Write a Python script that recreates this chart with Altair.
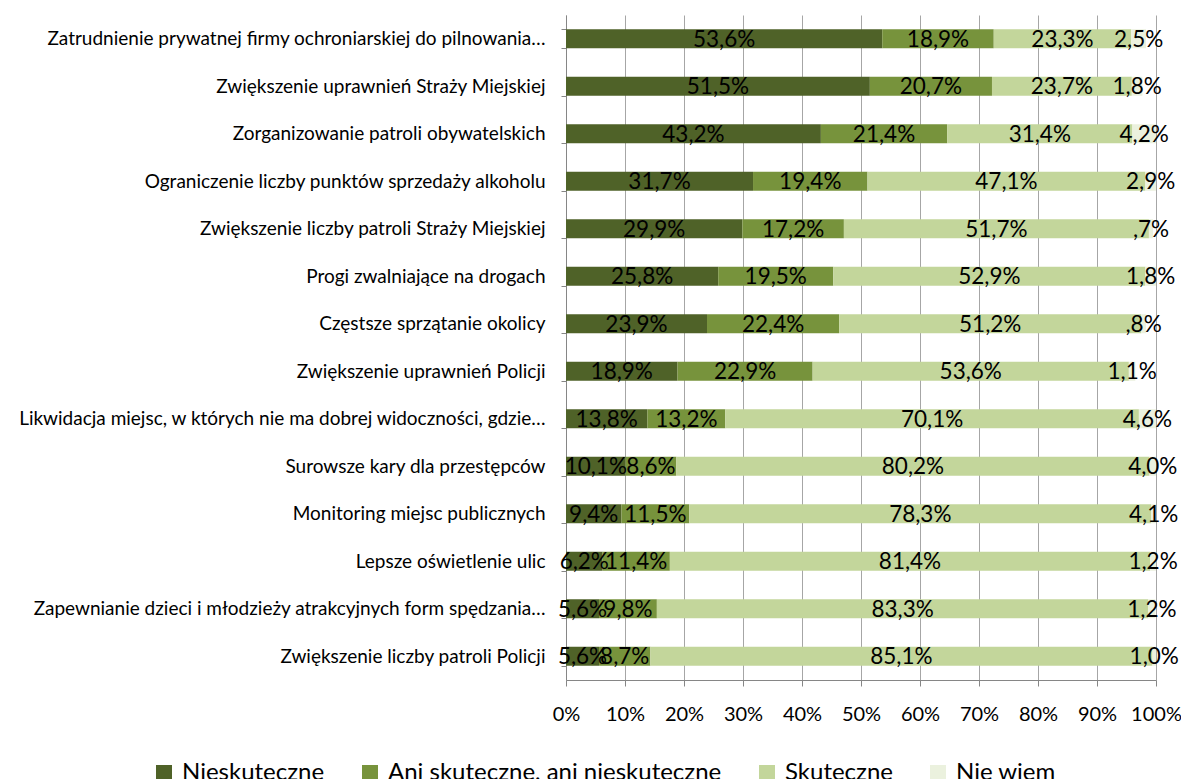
import altair as alt
import pandas as pd

categories = [
    "Zatrudnienie prywatnej firmy ochroniarskiej do pilnowania…",
    "Zwiększenie uprawnień Straży Miejskiej",
    "Zorganizowanie patroli obywatelskich",
    "Ograniczenie liczby punktów sprzedaży alkoholu",
    "Zwiększenie liczby patroli Straży Miejskiej",
    "Progi zwalniające na drogach",
    "Częstsze sprzątanie okolicy",
    "Zwiększenie uprawnień Policji",
    "Likwidacja miejsc, w których nie ma dobrej widoczności, gdzie…",
    "Surowsze kary dla przestępców",
    "Monitoring miejsc publicznych",
    "Lepsze oświetlenie ulic",
    "Zapewnianie dzieci i młodzieży atrakcyjnych form spędzania…",
    "Zwiększenie liczby patroli Policji",
]
series = ["Nieskuteczne", "Ani skuteczne, ani nieskuteczne", "Skuteczne", "Nie wiem"]
nieskuteczne = [53.6, 51.5, 43.2, 31.7, 29.9, 25.8, 23.9, 18.9, 13.8, 10.1, 9.4, 6.2, 5.6, 5.6]
ani = [18.9, 20.7, 21.4, 19.4, 17.2, 19.5, 22.4, 22.9, 13.2, 8.6, 11.5, 11.4, 9.8, 8.7]
skuteczne = [23.3, 23.7, 31.4, 47.1, 51.7, 52.9, 51.2, 53.6, 70.1, 80.2, 78.3, 81.4, 83.3, 85.1]
nie_wiem = [2.5, 1.8, 4.2, 2.9, 0.7, 1.8, 0.8, 1.1, 4.6, 4.0, 4.1, 1.2, 1.2, 1.0]
colors = ["#4F6228", "#77933C", "#C3D69B", "#EBF1DE"]
x_ticks = [i / 10 for i in range(11)]


def fmt(v):
    s = f"{v:.1f}".replace(".", ",")
    if s.startswith("0,"):
        s = s[1:]
    return s + "%"


rows = []
for i, cat in enumerate(categories):
    for k, (name, vals) in enumerate(zip(series, [nieskuteczne, ani, skuteczne, nie_wiem])):
        rows.append({"cat": cat, "series": name, "order": k, "value": vals[i] / 100.0, "label": fmt(vals[i])})
df = pd.DataFrame(rows)

FONT = "Lato"

base = alt.Chart(df).transform_stack(
    stack="value", as_=["start", "end"], groupby=["cat"], sort=[alt.SortField("order")]
).transform_calculate(
    cs="min(datum.start, 1)",
    ce="min(datum.end, 1)",
).transform_calculate(mid="(datum.cs + datum.ce) / 2")

y_enc = alt.Y(
    "cat:N",
    sort=categories,
    title=None,
    scale=alt.Scale(paddingInner=0.6, paddingOuter=0.3),
    axis=alt.Axis(
        tickBand="extent",
        labelFont=FONT,
        labelFontSize=19,
        labelColor="#000000",
        labelLimit=700,
        labelPadding=16,
        tickSize=5,
        tickColor="#868686",
        domainColor="#868686",
        grid=False,
    ),
)

bars = base.mark_bar().encode(
    y=y_enc,
    x=alt.X(
        "cs:Q",
        title=None,
        scale=alt.Scale(domain=[0, 1], nice=False),
        axis=alt.Axis(
            format=".0%",
            values=x_ticks,
            labelFont=FONT,
            labelFontSize=20,
            labelColor="#000000",
            labelPadding=18,
            labelOverlap=False,
            labelFlush=False,
            tickSize=6,
            tickColor="#868686",
            domainColor="#868686",
            gridColor="#A6A6A6",
            grid=True,
        ),
    ),
    x2="ce:Q",
    color=alt.Color(
        "series:N",
        sort=series,
        scale=alt.Scale(domain=series, range=colors),
        legend=alt.Legend(
            title=None,
            orient="none",
            direction="horizontal",
            legendX=-414,
            legendY=746,
            symbolType="square",
            symbolSize=256,
            symbolStrokeWidth=0,
            labelFont=FONT,
            labelFontSize=24,
            labelColor="#000000",
            labelLimit=500,
            columnPadding=33,
            labelOffset=6,
        ),
    ),
    order=alt.Order("order:Q"),
)

texts = base.mark_text(font=FONT, fontSize=22.5, color="#000000", baseline="middle", dy=1).encode(
    y=alt.Y("cat:N", sort=categories),
    x=alt.X("mid:Q"),
    text="label:N",
)

chart = (
    alt.layer(bars, texts)
    .properties(
        width=590,
        height=665,
        autosize=alt.AutoSizeParams(type="none"),
        padding={"left": 558, "top": 7, "right": 25, "bottom": 104},
    )
    .configure_view(stroke=None)
)

chart.save("out.html", embed_options={"renderer": "svg", "actions": False})
